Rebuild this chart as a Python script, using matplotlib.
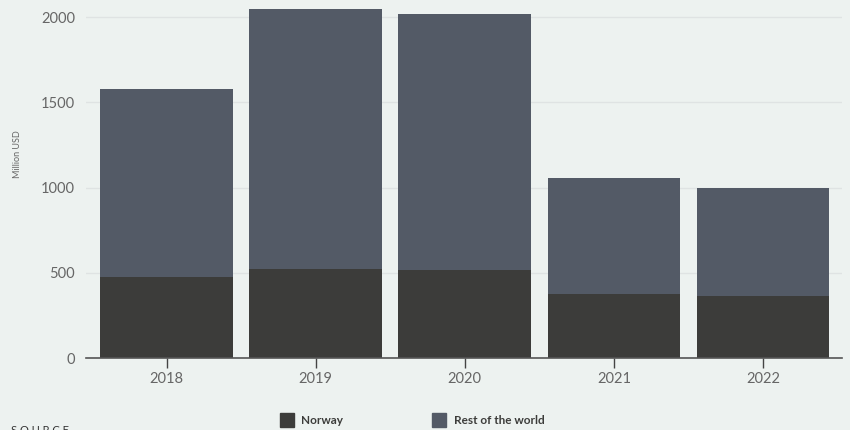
import matplotlib.pyplot as plt
from matplotlib.lines import Line2D

plt.rcParams['font.family'] = ['Lato', 'DejaVu Sans']

# Investment by region, million USD
years = ['2018', '2019', '2020', '2021', '2022']
norway = [477, 522, 516, 375, 364]
rest_of_world = [1101, 1525, 1502, 681, 635]

BG = '#edf2f0'
NORWAY_COLOR = '#3c3c3a'
REST_COLOR = '#535a66'

fig = plt.figure(figsize=(8.5, 4.3), dpi=100, facecolor=BG)
ax = fig.add_axes([86 / 850, 72 / 430, 756 / 850, 358 / 430], facecolor=BG)

x = list(range(len(years)))
ax.bar(x, norway, width=0.89, color=NORWAY_COLOR, zorder=3)
ax.bar(x, rest_of_world, width=0.89, bottom=norway, color=REST_COLOR, zorder=3)

ax.set_xlim(-0.54, 4.53)
ax.set_ylim(0, 2100)
ax.set_yticks([0, 500, 1000, 1500, 2000])
ax.set_xticks(x)
ax.set_xticklabels(years)
ax.yaxis.grid(True, color='#dfe3e3', linewidth=1, zorder=0)

for side in ['top', 'right', 'left']:
    ax.spines[side].set_visible(False)
ax.spines['bottom'].set_color('#555555')
ax.spines['bottom'].set_linewidth(1.2)
ax.spines['bottom'].set_zorder(4)

ax.tick_params(axis='x', length=7, width=1, color='#444444', labelsize=10.5,
               labelcolor='#666666', pad=3)
ax.tick_params(axis='y', length=0, labelsize=10.5, labelcolor='#666666', pad=8)

ax.set_ylabel('Million USD', fontsize=6.5, color='#666666')
ax.yaxis.set_label_coords(-64 / 756, 0.57)

handles = [
    Line2D([], [], marker='s', linestyle='none', markersize=10,
           markerfacecolor=NORWAY_COLOR, markeredgecolor=NORWAY_COLOR),
    Line2D([], [], marker='s', linestyle='none', markersize=10,
           markerfacecolor=REST_COLOR, markeredgecolor=REST_COLOR),
]
fig.legend(handles, ['Norway', 'Rest of the world'], ncol=2, frameon=False,
           loc='center left', bbox_to_anchor=(270 / 850, 9 / 430),
           prop={'size': 8.5, 'weight': 'bold'}, labelcolor='#3c3c3a',
           handletextpad=0.75, columnspacing=7.6, handlelength=1.0)

fig.text(11 / 850, 5 / 430, 'S O U R C E', fontsize=8, color='#333333',
         va='top', ha='left')

fig.savefig('out.png', dpi=100, facecolor=BG)
